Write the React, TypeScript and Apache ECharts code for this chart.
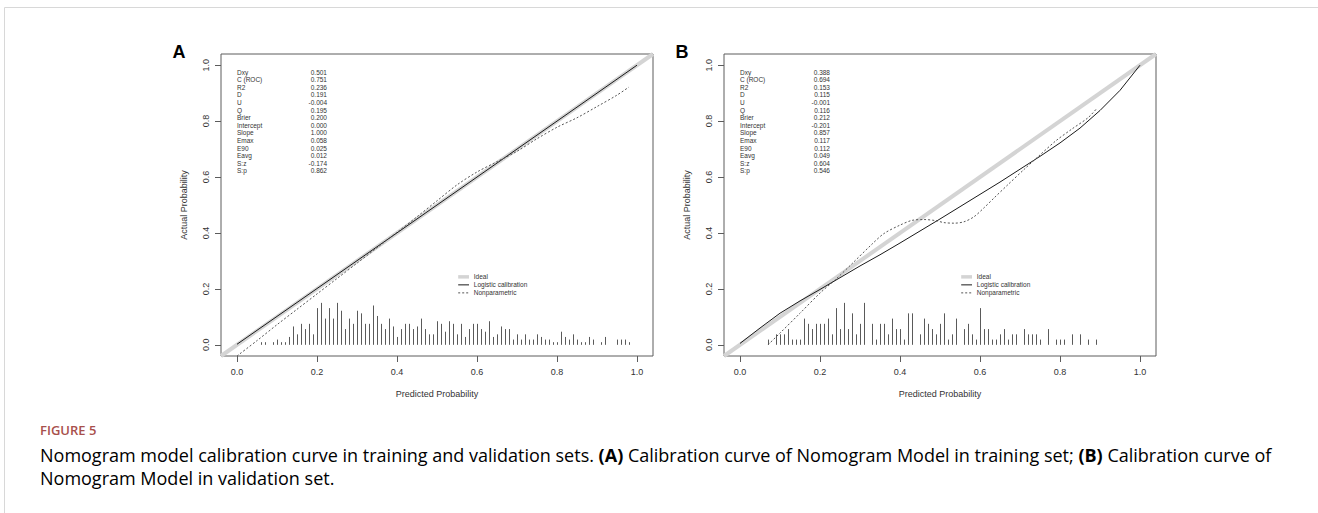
import React, { useEffect, useRef } from "react";
import * as echarts from "echarts";

// ---------- data ----------
const TICKS = [0, 0.2, 0.4, 0.6, 0.8, 1.0];
const TICK_LABELS = ["0.0", "0.2", "0.4", "0.6", "0.8", "1.0"];
const X_NAME = "Predicted Probability";
const Y_NAME = "Actual Probability";
const PANEL_LETTERS = ["A", "B"];

const STAT_NAMES = ["Dxy", "C (ROC)", "R2", "D", "U", "Q", "Brier", "Intercept", "Slope", "Emax", "E90", "Eavg", "S:z", "S:p"];
const STATS_A = ["0.501", "0.751", "0.236", "0.191", "-0.004", "0.195", "0.200", "0.000", "1.000", "0.058", "0.025", "0.012", "-0.174", "0.862"];
const STATS_B = ["0.388", "0.694", "0.153", "0.115", "-0.001", "0.116", "0.212", "-0.201", "0.857", "0.117", "0.112", "0.049", "0.604", "0.546"];

const LEGEND_ITEMS = ["Ideal", "Logistic calibration", "Nonparametric"];

const IDEAL = [[-0.04, -0.04], [1.04, 1.04]];

const LOGISTIC_A = [[0, 0.002], [0.5, 0.5], [1.0, 1.0]];
const NONPAR_A = [
  [0.0, -0.04], [0.05, 0.015], [0.1, 0.072], [0.15, 0.127], [0.2, 0.182], [0.25, 0.237],
  [0.3, 0.292], [0.35, 0.347], [0.4, 0.402], [0.45, 0.458], [0.5, 0.515], [0.55, 0.572],
  [0.6, 0.618], [0.65, 0.655], [0.7, 0.692], [0.75, 0.737], [0.8, 0.778], [0.85, 0.812],
  [0.9, 0.852], [0.95, 0.893], [0.98, 0.922],
];

const LOGISTIC_B = [
  [0, 0.005], [0.05, 0.06], [0.1, 0.113], [0.15, 0.157], [0.2, 0.198], [0.25, 0.24],
  [0.3, 0.282], [0.35, 0.322], [0.4, 0.364], [0.45, 0.407], [0.5, 0.45], [0.55, 0.494],
  [0.6, 0.538], [0.65, 0.582], [0.7, 0.628], [0.75, 0.674], [0.8, 0.722], [0.85, 0.775],
  [0.9, 0.838], [0.95, 0.91], [1.0, 1.0],
];
const NONPAR_B = [
  [0.07, 0.0], [0.1, 0.042], [0.15, 0.113], [0.2, 0.185], [0.24, 0.235], [0.28, 0.29],
  [0.33, 0.36], [0.36, 0.398], [0.4, 0.428], [0.43, 0.445], [0.46, 0.448], [0.49, 0.444],
  [0.51, 0.437], [0.535, 0.435], [0.56, 0.44], [0.585, 0.458], [0.61, 0.49], [0.635, 0.525],
  [0.67, 0.573], [0.71, 0.627], [0.75, 0.679], [0.79, 0.73], [0.83, 0.772], [0.87, 0.812],
  [0.89, 0.842],
];

// histogram (spike counts per bin)
const HIST_A_X = [
  0.06, 0.07, 0.09, 0.10, 0.11, 0.12, 0.13, 0.14, 0.15, 0.16, 0.17, 0.18, 0.19, 0.20, 0.21, 0.22,
  0.23, 0.24, 0.25, 0.26, 0.27, 0.28, 0.29, 0.30, 0.31, 0.32, 0.33, 0.34, 0.35, 0.36, 0.37, 0.38,
  0.39, 0.40, 0.41, 0.42, 0.43, 0.44, 0.45, 0.46, 0.47, 0.48, 0.49, 0.50, 0.51, 0.52, 0.53, 0.54,
  0.55, 0.56, 0.57, 0.58, 0.59, 0.60, 0.61, 0.62, 0.63, 0.64, 0.65, 0.66, 0.67, 0.68, 0.69, 0.70,
  0.71, 0.72, 0.73, 0.74, 0.75, 0.76, 0.77, 0.78, 0.79, 0.80, 0.81, 0.82, 0.83, 0.84, 0.85, 0.86,
  0.87, 0.88, 0.89, 0.91, 0.92, 0.95, 0.96, 0.97, 0.98,
];
const HIST_A_N = [
  1, 1, 1, 2, 1, 1, 3, 7, 4, 8, 6, 8, 4, 14, 16, 10,
  14, 10, 16, 13, 6, 10, 8, 13, 12, 8, 8, 15, 11, 8, 6, 10,
  7, 3, 6, 8, 8, 6, 7, 10, 6, 4, 4, 9, 8, 5, 9, 8,
  4, 8, 3, 6, 8, 8, 6, 5, 9, 3, 4, 7, 6, 6, 2, 4,
  2, 4, 2, 2, 4, 3, 2, 2, 1, 1, 5, 3, 2, 4, 2, 1,
  1, 3, 2, 1, 3, 2, 2, 2, 1,
];
const HIST_B_X = [
  0.07, 0.09, 0.10, 0.11, 0.12, 0.13, 0.14, 0.15, 0.16, 0.17, 0.18, 0.19, 0.20, 0.21, 0.22, 0.23,
  0.24, 0.25, 0.26, 0.27, 0.28, 0.29, 0.30, 0.31, 0.33, 0.34, 0.35, 0.36, 0.37, 0.38, 0.39, 0.40,
  0.41, 0.42, 0.43, 0.45, 0.46, 0.47, 0.48, 0.49, 0.50, 0.51, 0.52, 0.53, 0.54, 0.56, 0.57, 0.58,
  0.59, 0.60, 0.61, 0.62, 0.63, 0.64, 0.65, 0.66, 0.67, 0.68, 0.69, 0.71, 0.72, 0.73, 0.74, 0.75,
  0.77, 0.79, 0.80, 0.81, 0.83, 0.85, 0.87, 0.89,
];
const HIST_B_N = [
  1, 2, 2, 2, 3, 1, 1, 1, 5, 4, 3, 4, 4, 4, 5, 2,
  7, 3, 8, 3, 6, 2, 4, 8, 4, 1, 4, 4, 2, 5, 3, 3,
  1, 6, 6, 2, 5, 4, 3, 2, 4, 6, 1, 2, 5, 3, 4, 2,
  1, 7, 3, 3, 1, 1, 2, 3, 1, 2, 2, 3, 2, 2, 2, 1,
  3, 1, 1, 1, 2, 2, 1, 1,
];
const HIST_MAX_HEIGHT = 0.15;

const FIGURE_LABEL = "FIGURE 5";
const CAPTION_1 = [
  ["n", "Nomogram model calibration curve in training and validation sets. "],
  ["b", "(A)"],
  ["n", " Calibration curve of Nomogram Model in training set; "],
  ["b", "(B)"],
  ["n", " Calibration curve of"],
];
const CAPTION_2 = [["n", "Nomogram Model in validation set."]];

// ---------- layout / style ----------
const W = 1318;
const H = 513;
const PLOT_FONT = "'Liberation Sans', Arial, Helvetica, sans-serif";
const CAP_FONT = "'Open Sans', 'Noto Sans', sans-serif";
const BOX_COLOR = "#5c5c5c";
const GRIDS = [
  { left: 221, top: 54, width: 432, height: 302 },
  { left: 724, top: 54, width: 432, height: 302 },
];

function histData(xs: number[], ns: number[]) {
  const m = Math.max(...ns);
  return xs.map((x, i) => [x, (ns[i] / m) * HIST_MAX_HEIGHT]);
}

function axisPair(gi: number) {
  const common = {
    gridIndex: gi,
    type: "value",
    min: -0.04,
    max: 1.04,
    axisLine: { show: false, onZero: false },
    axisTick: { show: true, inside: false, length: 6, customValues: TICKS, lineStyle: { color: BOX_COLOR, width: 1 } },
    splitLine: { show: false },
    nameLocation: "middle",
    nameTextStyle: { fontFamily: PLOT_FONT, fontSize: 9, color: "#333" },
  };
  const fmt = (v: number) => TICK_LABELS[TICKS.findIndex((t) => Math.abs(t - v) < 1e-9)] ?? v.toFixed(1);
  return {
    x: {
      ...common,
      name: X_NAME,
      nameGap: 33,
      axisLabel: { customValues: TICKS, formatter: fmt, fontFamily: PLOT_FONT, fontSize: 9, color: "#333", margin: 11 },
    },
    y: {
      ...common,
      name: Y_NAME,
      nameGap: 33,
      nameRotate: 90,
      axisLabel: { customValues: TICKS, formatter: fmt, rotate: 90, fontFamily: PLOT_FONT, fontSize: 9, color: "#333", margin: 11 },
    },
  };
}

function histRender(params: any, api: any) {
  const p0 = api.coord([api.value(0), 0]);
  const p1 = api.coord([api.value(0), api.value(1)]);
  const x = Math.round(p0[0]) + 0.5;
  return {
    type: "line",
    shape: { x1: x, y1: p0[1], x2: x, y2: p1[1] },
    style: { stroke: "#5a5a5a", lineWidth: 1 },
  };
}

function panelSeries(gi: number, logistic: number[][], nonpar: number[][], hist: number[][]) {
  return [
    {
      type: "line", xAxisIndex: gi, yAxisIndex: gi, data: IDEAL, symbol: "none", silent: true, z: 1,
      lineStyle: { color: "#d4d4d4", width: 4 },
    },
    {
      type: "custom", xAxisIndex: gi, yAxisIndex: gi, data: hist, renderItem: histRender, silent: true, z: 2,
    },
    {
      type: "line", xAxisIndex: gi, yAxisIndex: gi, data: logistic, symbol: "none", silent: true, z: 3,
      lineStyle: { color: "#1a1a1a", width: 1 },
    },
    {
      type: "line", xAxisIndex: gi, yAxisIndex: gi, data: nonpar, symbol: "none", smooth: 0.3, silent: true, z: 4,
      lineStyle: { color: "#555", width: 1, type: [2, 2] },
    },
  ];
}

export default function App() {
  const ref = useRef<HTMLDivElement>(null);

  useEffect(() => {
    if (!ref.current) return;
    const chart = echarts.init(ref.current, null, { renderer: "svg", width: W, height: H });
    const a0 = axisPair(0);
    const a1 = axisPair(1);
    chart.setOption({
      animation: false,
      backgroundColor: "#ffffff",
      grid: GRIDS.map((g) => ({ ...g, show: true, borderColor: BOX_COLOR, borderWidth: 1, backgroundColor: "transparent" })),
      xAxis: [a0.x, a1.x],
      yAxis: [a0.y, a1.y],
      series: [
        ...panelSeries(0, LOGISTIC_A, NONPAR_A, histData(HIST_A_X, HIST_A_N)),
        ...panelSeries(1, LOGISTIC_B, NONPAR_B, histData(HIST_B_X, HIST_B_N)),
      ],
    });

    const g: any[] = [];
    // page frame
    g.push({ type: "line", shape: { x1: 4.5, y1: 7.5, x2: W, y2: 7.5 }, style: { stroke: "#d8d8d8", lineWidth: 1 } });
    g.push({ type: "line", shape: { x1: 4.5, y1: 7.5, x2: 4.5, y2: H }, style: { stroke: "#d8d8d8", lineWidth: 1 } });

    const statSets = [STATS_A, STATS_B];
    [0, 1].forEach((gi) => {
      const px = (x: number, y: number) => chart.convertToPixel({ gridIndex: gi } as any, [x, y]) as number[];
      // panel letter
      const corner = px(-0.04, 1.04);
      g.push({
        type: "text",
        style: {
          text: PANEL_LETTERS[gi], x: corner[0] - 42, y: corner[1] - 2, fill: "#000",
          font: `bold 18px ${PLOT_FONT}`, textAlign: "center", textVerticalAlign: "middle",
        },
      });
      // stats block
      const s0 = px(0, 0.975);
      const vx = px(0.225, 0)[0];
      STAT_NAMES.forEach((name, i) => {
        const y = s0[1] + i * 7.6;
        g.push({
          type: "text",
          style: { text: name, x: s0[0], y, fill: "#333", font: `6.5px ${PLOT_FONT}`, textAlign: "left", textVerticalAlign: "middle" },
        });
        g.push({
          type: "text",
          style: { text: statSets[gi][i], x: vx, y, fill: "#333", font: `6.5px ${PLOT_FONT}`, textAlign: "right", textVerticalAlign: "middle" },
        });
      });
      // legend
      const l0 = px(0.553, 0.243);
      const l1x = px(0.58, 0)[0];
      const tx = px(0.592, 0)[0];
      LEGEND_ITEMS.forEach((name, i) => {
        const y = l0[1] + i * 8;
        const ls =
          i === 0
            ? { stroke: "#d4d4d4", lineWidth: 3.5 }
            : i === 1
            ? { stroke: "#1a1a1a", lineWidth: 1 }
            : { stroke: "#555", lineWidth: 1, lineDash: [2, 2] };
        g.push({ type: "line", shape: { x1: l0[0], y1: y, x2: l1x, y2: y }, style: ls });
        g.push({
          type: "text",
          style: { text: name, x: tx, y, fill: "#333", font: `6.5px ${PLOT_FONT}`, textAlign: "left", textVerticalAlign: "middle" },
        });
      });
    });

    // caption
    const rich = {
      n: { fontFamily: CAP_FONT, fontSize: 18, color: "#727272" },
      b: { fontFamily: CAP_FONT, fontSize: 18, color: "#727272", fontWeight: "bold" },
    };
    const toRich = (parts: string[][]) => parts.map(([k, t]) => `{${k}|${t}}`).join("");
    g.push({
      type: "text",
      style: {
        text: FIGURE_LABEL, x: 40, y: 430, fill: "#a8504c",
        font: `600 13px ${CAP_FONT}`, textAlign: "left", textVerticalAlign: "middle",
      },
    });
    g.push({
      type: "text",
      style: { text: toRich(CAPTION_1), rich, x: 40, y: 455, textAlign: "left", textVerticalAlign: "middle" },
    });
    g.push({
      type: "text",
      style: { text: toRich(CAPTION_2), rich, x: 40, y: 478, textAlign: "left", textVerticalAlign: "middle" },
    });

    chart.setOption({ graphic: g });
    return () => chart.dispose();
  }, []);

  return (
    <div
      ref={ref}
      style={{ position: "absolute", left: 0, top: 0, width: W, height: H, background: "#fff" }}
    />
  );
}
